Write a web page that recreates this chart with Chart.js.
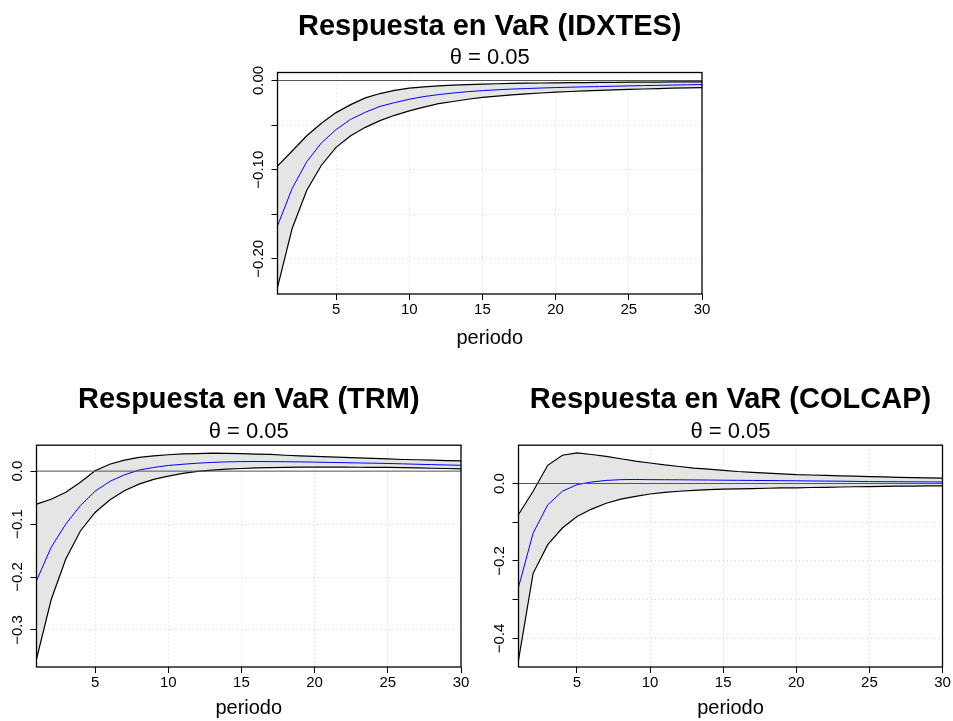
<!DOCTYPE html>
<html>
<head>
<meta charset="utf-8">
<script src="https://cdn.jsdelivr.net/npm/chart.js@4.4.1/dist/chart.umd.min.js"></script>
<style>
  body { margin: 0; background: #fff; width: 953px; height: 721px; overflow: hidden; }
  canvas { position: absolute; }
</style>
</head>
<body>
<canvas id="idxtes"></canvas>
<canvas id="trm"></canvas>
<canvas id="colcap"></canvas>
<script>
// horizon (periodo)
const periods = [1,2,3,4,5,6,7,8,9,10,11,12,13,14,15,16,17,18,19,20,21,22,23,24,25,26,27,28,29,30];
const xTicks = [5, 10, 15, 20, 25, 30];

// IDXTES
const idxtesUpper = [-0.096,-0.079,-0.062,-0.048,-0.036,-0.027,-0.0195,-0.0146,-0.011,-0.0086,-0.0072,-0.006,-0.0052,-0.0045,-0.004,-0.0036,-0.0033,-0.003,-0.0028,-0.0026,-0.0024,-0.0023,-0.0021,-0.002,-0.0019,-0.0018,-0.0017,-0.0016,-0.0016,-0.0015];
const idxtesMedian = [-0.163,-0.121,-0.091,-0.070,-0.055,-0.0435,-0.0356,-0.029,-0.0248,-0.021,-0.018,-0.0158,-0.014,-0.0125,-0.0113,-0.0104,-0.0096,-0.009,-0.0084,-0.0079,-0.0075,-0.0071,-0.0068,-0.0064,-0.006,-0.0057,-0.0054,-0.0051,-0.0048,-0.0045];
const idxtesLower = [-0.232,-0.166,-0.123,-0.095,-0.075,-0.062,-0.0525,-0.045,-0.039,-0.034,-0.0298,-0.026,-0.0235,-0.021,-0.019,-0.0175,-0.016,-0.015,-0.014,-0.013,-0.0123,-0.0116,-0.011,-0.0105,-0.010,-0.0095,-0.009,-0.0086,-0.0082,-0.0079];
const idxtesYTicks = [0, -0.05, -0.10, -0.15, -0.20];
const idxtesYLabels = ['0.00', '', '\u22120.10', '', '\u22120.20'];

// TRM
const trmUpper = [-0.0623,-0.053,-0.040,-0.021,0.0006,0.013,0.0208,0.026,0.029,0.031,0.0325,0.033,0.034,0.0335,0.033,0.0322,0.0315,0.030,0.029,0.028,0.027,0.026,0.025,0.024,0.023,0.022,0.0215,0.0208,0.020,0.0195];
const trmMedian = [-0.207,-0.144,-0.100,-0.065,-0.038,-0.0195,-0.007,0.002,0.007,0.0107,0.013,0.015,0.0165,0.0175,0.018,0.0182,0.018,0.0178,0.0175,0.017,0.0165,0.016,0.0155,0.015,0.0145,0.0138,0.013,0.0123,0.0117,0.011];
const trmLower = [-0.355,-0.243,-0.166,-0.113,-0.078,-0.0547,-0.037,-0.0245,-0.0157,-0.0094,-0.0044,-0.0006,0.0019,0.0037,0.005,0.006,0.0068,0.0072,0.0074,0.0075,0.0075,0.0074,0.0073,0.0072,0.007,0.0066,0.0061,0.0055,0.005,0.0044];
const trmYTicks = [0, -0.1, -0.2, -0.3];
const trmYLabels = ['0.0', '\u22120.1', '\u22120.2', '\u22120.3'];

// COLCAP
const colcapUpper = [-0.080,-0.020,0.047,0.073,0.079,0.075,0.070,0.064,0.058,0.053,0.048,0.044,0.040,0.037,0.034,0.031,0.029,0.027,0.025,0.023,0.022,0.021,0.020,0.019,0.018,0.017,0.016,0.015,0.0145,0.014];
const colcapMedian = [-0.268,-0.128,-0.055,-0.020,-0.003,0.004,0.008,0.010,0.0105,0.010,0.0098,0.0096,0.0093,0.009,0.0086,0.0083,0.008,0.0077,0.0073,0.007,0.0066,0.0063,0.006,0.0055,0.005,0.0048,0.0046,0.0044,0.0042,0.004];
const colcapLower = [-0.456,-0.232,-0.158,-0.115,-0.085,-0.066,-0.051,-0.0405,-0.033,-0.027,-0.023,-0.020,-0.0178,-0.016,-0.0147,-0.0138,-0.013,-0.0122,-0.0115,-0.011,-0.0103,-0.0097,-0.009,-0.0084,-0.0078,-0.0073,-0.0069,-0.0065,-0.0062,-0.006];
const colcapYTicks = [0, -0.1, -0.2, -0.3, -0.4];
const colcapYLabels = ['0.0', '', '\u22120.2', '', '\u22120.4'];

const FONT = '"Liberation Sans", Arial, Helvetica, sans-serif';

// box, zero line and rotated y labels like base R graphics
const rFrame = {
  id: 'rFrame',
  afterDatasetsDraw(chart, args, opts) {
    const {ctx, chartArea: a} = chart;
    const y = chart.scales.y;
    const y0 = y.getPixelForValue(0);
    ctx.save();
    ctx.strokeStyle = '#555';
    ctx.lineWidth = 1;
    ctx.beginPath();
    ctx.moveTo(a.left, y0);
    ctx.lineTo(a.right, y0);
    ctx.stroke();
    ctx.strokeStyle = '#000';
    ctx.lineWidth = 1.3;
    ctx.strokeRect(a.left, a.top, a.right - a.left, a.bottom - a.top);
    ctx.fillStyle = '#000';
    ctx.font = '15px ' + FONT;
    ctx.textAlign = 'center';
    ctx.textBaseline = 'middle';
    y.ticks.forEach((t, i) => {
      const lab = opts.labels[i];
      if (!lab) return;
      ctx.save();
      ctx.translate(a.left - 19, y.getPixelForValue(t.value));
      ctx.rotate(-Math.PI / 2);
      ctx.fillText(lab, 0, 0);
      ctx.restore();
    });
    ctx.restore();
  }
};

function panel(id, name, upper, median, lower, yTicks, yLabels, yMin, yMax, box) {
  const cv = document.getElementById(id);
  cv.width = box.w;
  cv.height = box.h;
  cv.style.left = box.left + 'px';
  cv.style.top = box.top + 'px';

  const yAxisW = 30;
  const titleTop = box.titleY - box.top - 17.4;
  const subTop = Math.max(0, (box.subY - 13.2) - (box.titleY + 17.4));
  const subBottom = Math.max(0, box.plotTop - (box.subY + 13.2));

  new Chart(cv.getContext('2d'), {
    type: 'line',
    data: {
      labels: periods,
      datasets: [
        {data: median, borderColor: '#0000ff', borderWidth: 1, pointRadius: 0, fill: false},
        {data: upper, borderColor: '#000', borderWidth: 1.2, pointRadius: 0, fill: '+1', backgroundColor: '#e5e5e5'},
        {data: lower, borderColor: '#000', borderWidth: 1.2, pointRadius: 0, fill: false}
      ]
    },
    options: {
      responsive: false,
      animation: false,
      devicePixelRatio: 1,
      layout: {
        padding: {
          left: box.plotLeft - box.left - yAxisW,
          right: box.left + box.w - box.plotRight,
          top: 0,
          bottom: 0
        }
      },
      plugins: {
        legend: {display: false},
        tooltip: {enabled: false},
        filler: {drawTime: 'beforeDatasetsDraw'},
        title: {
          display: true,
          fullSize: false,
          text: 'Respuesta en VaR (' + name + ')',
          color: '#000',
          font: {family: FONT, size: 29, weight: 'bold', lineHeight: 1.2},
          padding: {top: titleTop, bottom: 0}
        },
        subtitle: {
          display: true,
          fullSize: false,
          text: '\u03b8 = 0.05',
          color: '#000',
          font: {family: FONT, size: 22, lineHeight: 1.2},
          padding: {top: subTop, bottom: subBottom}
        },
        rFrame: {labels: yLabels}
      },
      scales: {
        x: {
          type: 'linear',
          min: 1,
          max: 30,
          afterBuildTicks: s => { s.ticks = xTicks.map(v => ({value: v})); },
          afterFit: s => { s.height = box.top + box.h - box.plotBottom; },
          ticks: {
            color: '#000',
            font: {family: FONT, size: 15, lineHeight: 1.2},
            padding: box.tickY - box.plotBottom - 6 - 9,
            maxRotation: 0,
            autoSkip: false
          },
          grid: {color: '#d3d3d3', lineWidth: 1, drawTicks: true, tickLength: 6, tickColor: '#000', tickWidth: 1},
          border: {display: false, dash: [1, 3]},
          title: {
            display: true,
            text: 'periodo',
            color: '#000',
            font: {family: FONT, size: 20, lineHeight: 1.2},
            padding: {top: 0, bottom: box.top + box.h - box.labY - 12}
          }
        },
        y: {
          min: yMin,
          max: yMax,
          afterBuildTicks: s => { s.ticks = yTicks.map(v => ({value: v})); },
          afterFit: s => { s.width = yAxisW; },
          ticks: {display: false},
          grid: {color: '#d3d3d3', lineWidth: 1, drawTicks: true, tickLength: 6, tickColor: '#000', tickWidth: 1},
          border: {display: false, dash: [1, 3]}
        }
      }
    },
    plugins: [rFrame]
  });
}

panel('idxtes', 'IDXTES', idxtesUpper, idxtesMedian, idxtesLower, idxtesYTicks, idxtesYLabels, -0.2394, 0.009,
  {left: 230, top: 0, w: 490, h: 355, plotLeft: 277.5, plotRight: 702, plotTop: 72.5, plotBottom: 294,
   titleY: 27, subY: 58, tickY: 310, labY: 338});
panel('trm', 'TRM', trmUpper, trmMedian, trmLower, trmYTicks, trmYLabels, -0.370, 0.049,
  {left: 0, top: 370, w: 476, h: 351, plotLeft: 36.5, plotRight: 461, plotTop: 444.5, plotBottom: 667,
   titleY: 400, subY: 432, tickY: 683, labY: 708});
panel('colcap', 'COLCAP', colcapUpper, colcapMedian, colcapLower, colcapYTicks, colcapYLabels, -0.474, 0.099,
  {left: 476, top: 370, w: 477, h: 351, plotLeft: 518.5, plotRight: 942.5, plotTop: 444.5, plotBottom: 667,
   titleY: 400, subY: 432, tickY: 683, labY: 708});
</script>
</body>
</html>
